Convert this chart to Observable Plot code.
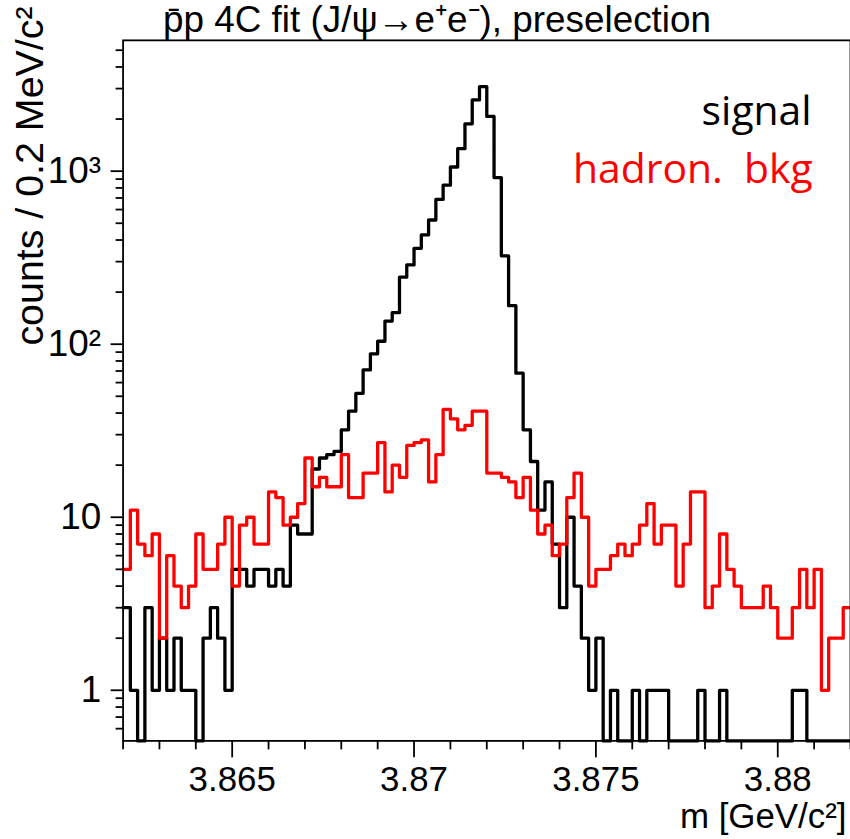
<!DOCTYPE html>
<html>
<head>
<meta charset="utf-8">
<script src="https://cdn.jsdelivr.net/npm/d3@7"></script>
<script src="https://cdn.jsdelivr.net/npm/@observablehq/plot@0.6"></script>
<style>
  html, body { margin: 0; padding: 0; background: #fff; overflow: hidden; }
  #chart { width: 850px; height: 839px; overflow: hidden; }
</style>
</head>
<body>
<div id="chart"></div>
<script>
// Invariant mass of the 4C-fitted pbar-p candidates, 0.2 MeV/c^2 bins from 3.862 to 3.882 GeV/c^2
const xMin = 3.862;
const binWidth = 0.0002;
const nBins = 100;

// counts per bin, signal sample (J/psi -> e+e-)
const signalCounts = [
  3, 1, 0, 3, 1, 2, 1, 2, 1, 1,
  0, 2, 3, 2, 1, 5, 5, 4, 5, 5,
  4, 5, 4, 9, 8, 8, 19, 22, 23, 24,
  32, 41, 52, 71, 88, 104, 136, 152, 244, 287,
  358, 428, 522, 686, 830, 1057, 1348, 1878, 2581, 3080,
  2070, 918, 324, 167, 68, 32, 21, 11, 16, 7,
  3, 10, 4, 2, 1, 2, 0, 1, 0, 0,
  1, 0, 1, 1, 1, 0, 0, 0, 0, 1,
  0, 0, 1, 0, 0, 0, 0, 0, 0, 0,
  0, 0, 1, 1, 0, 0, 0, 0, 0, 0
];

// counts per bin, hadronic background sample
const hadronBkgCounts = [
  5, 11, 7, 6, 8, 2, 6, 4, 3, 4,
  8, 5, 5, 7, 10, 4, 9, 10, 7, 7,
  14, 13, 9, 10, 12, 22, 15, 17, 15, 15,
  23, 13, 13, 18, 18, 27, 14, 20, 17, 26,
  27, 28, 16, 23, 42, 37, 32, 34, 41, 41,
  18, 18, 17, 16, 13, 17, 11, 8, 9, 6,
  7, 13, 18, 10, 4, 5, 5, 6, 7, 6,
  7, 9, 12, 7, 9, 9, 4, 7, 14, 14,
  3, 4, 8, 5, 4, 3, 3, 3, 4, 3,
  2, 2, 3, 5, 3, 5, 1, 2, 2, 3
];

// axis ticks
const xMajorTicks = [3.865, 3.87, 3.875, 3.88];
const xTickLabels = ["3.865", "3.87", "3.875", "3.88"];
const xMinorTicks = [3.862, 3.863, 3.864, 3.866, 3.867, 3.868, 3.869, 3.871, 3.872, 3.873, 3.874,
                     3.876, 3.877, 3.878, 3.879, 3.881, 3.882];
const yMajorTicks = [1, 10, 100, 1000];
const yTickLabels = ["1", "10", "10\u00B2", "10\u00B3"];
const yMinorTicks = [0.6, 0.7, 0.8, 0.9, 2, 3, 4, 5, 6, 7, 8, 9,
                     20, 30, 40, 50, 60, 70, 80, 90, 200, 300, 400, 500, 600, 700, 800, 900,
                     2000, 3000, 4000, 5000];
const yFloor = 0.51;
const yTop = 5700;

// text
const titleText = "p\u0304p 4C fit (J/\u03C8\u2192e\u207Ae\u207B), preselection";
const xTitle = "m [GeV/c\u00B2]";
const yTitle = "counts / 0.2 MeV/c\u00B2";
const legendSignal = "signal";
const legendBkg = "hadron.  bkg";

// histogram outline points: one per bin low edge, plus the upper edge of the last bin
function outline(counts) {
  const pts = counts.map((c, i) => ({x: xMin + i * binWidth, c}));
  pts.push({x: xMin + nBins * binWidth, c: counts[counts.length - 1]});
  return pts;
}
const yOf = d => Math.max(d.c, yFloor); // empty bins sit on the lower frame edge

const tickFmtX = d => xTickLabels[xMajorTicks.findIndex(v => Math.abs(v - d) < 1e-9)];
const tickFmtY = d => yTickLabels[yMajorTicks.indexOf(d)];

const chart = Plot.plot({
  width: 853,
  height: 839,
  marginLeft: 123,
  marginRight: 0,
  marginTop: 40,
  marginBottom: 96,
  style: {
    fontFamily: "'Liberation Sans', Arial, Helvetica, sans-serif",
    fontSize: "35px",
    color: "black",
    background: "white",
    overflow: "visible"
  },
  x: {domain: [xMin, xMin + nBins * binWidth]},
  y: {type: "log", domain: [yFloor, yTop]},
  marks: [
    Plot.axisX(xMinorTicks, {tickSize: 9, tickFormat: () => "", strokeWidth: 1.8, label: null}),
    Plot.axisX(xMajorTicks, {tickSize: 17, tickPadding: 8, tickFormat: tickFmtX, strokeWidth: 1.8, label: null, fontSize: 35}),
    Plot.axisY(yMinorTicks, {tickSize: 7, tickFormat: () => "", strokeWidth: 1.8, label: null}),
    Plot.axisY(yMajorTicks, {tickSize: 12, tickPadding: 10, tickFormat: tickFmtY, strokeWidth: 1.8, label: null, fontSize: 37}),
    Plot.line(outline(signalCounts), {x: "x", y: yOf, curve: "step-after", stroke: "black", strokeWidth: 3.3}),
    Plot.line(outline(hadronBkgCounts), {x: "x", y: yOf, curve: "step-after", stroke: "#ff0000", strokeWidth: 3.3}),
    Plot.frame({stroke: "black", strokeWidth: 1.8}),
    // title
    Plot.text([titleText], {text: d => d, frameAnchor: "top-left", textAnchor: "start", lineAnchor: "bottom",
      dx: 40, dy: -8, fontSize: 37}),
    // axis titles
    Plot.text([xTitle], {text: d => d, frameAnchor: "bottom-right", textAnchor: "end", lineAnchor: "bottom",
      dx: -4, dy: 87, fontSize: 35}),
    Plot.text([yTitle], {text: d => d, frameAnchor: "top-left", textAnchor: "end", lineAnchor: "bottom",
      rotate: -90, dx: -80, dy: -34, fontSize: 39.5}),
    // legend
    Plot.text([legendSignal], {text: d => d, frameAnchor: "top-right", textAnchor: "end", lineAnchor: "bottom",
      dx: -39, dy: 85, fontSize: 41, fontFamily: "'Open Sans', sans-serif", fill: "black"}),
    Plot.text([legendBkg], {text: d => d, frameAnchor: "top-right", textAnchor: "end", lineAnchor: "bottom",
      dx: -38, dy: 143, fontSize: 41, fontFamily: "'Open Sans', sans-serif", fill: "#ff0000"})
  ]
});

document.getElementById("chart").append(chart);
d3.select(chart).selectAll("text").style("white-space", "pre");
</script>
</body>
</html>
